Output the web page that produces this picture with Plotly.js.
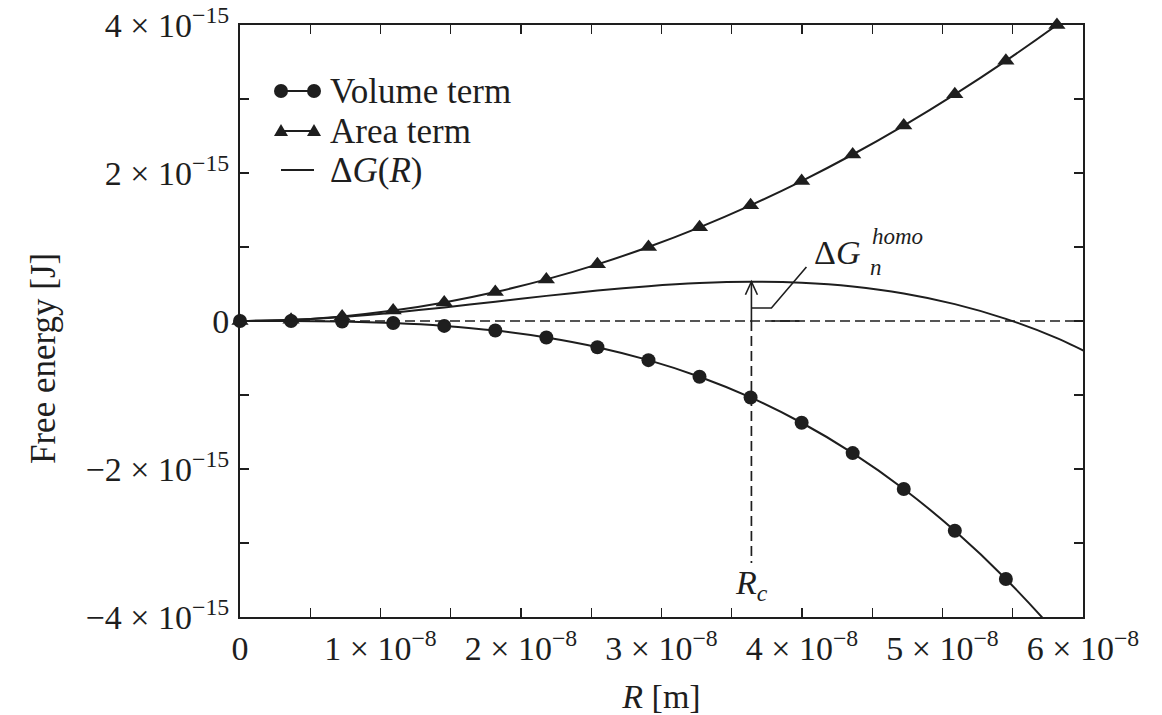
<!DOCTYPE html>
<html>
<head>
<meta charset="utf-8">
<script src="https://cdn.plot.ly/plotly-3.0.1.min.js"></script>
<style>html,body{margin:0;padding:0;background:#fff;}</style>
</head>
<body>
<div id="chart" style="width:1162px;height:715px;"></div>
<script>
// ---- data ----
const radius = [0, 3.634e-9, 7.268e-9, 1.0902e-8, 1.4536e-8, 1.817e-8, 2.1804e-8, 2.5438e-8,
  2.9072e-8, 3.2706e-8, 3.634e-8, 3.9974e-8, 4.3608e-8, 4.7242e-8, 5.0876e-8, 5.451e-8,
  5.8144e-8, 6.1778e-8];
const volumeTerm = [0, -1.0e-18, -8.3e-18, -2.79e-17, -6.61e-17, -1.29e-16, -2.23e-16, -3.54e-16,
  -5.29e-16, -7.53e-16, -1.033e-15, -1.375e-15, -1.785e-15, -2.27e-15, -2.835e-15, -3.486e-15,
  -4.231e-15, -5.075e-15];
const areaTerm = [0, 1.56e-17, 6.25e-17, 1.406e-16, 2.5e-16, 3.906e-16, 5.625e-16, 7.656e-16,
  1.0e-15, 1.266e-15, 1.563e-15, 1.891e-15, 2.25e-15, 2.641e-15, 3.063e-15, 3.516e-15,
  4.0e-15, 4.516e-15];
const deltaG = [0, 1.46e-17, 5.42e-17, 1.127e-16, 1.839e-16, 2.615e-16, 3.394e-16, 4.113e-16,
  4.711e-16, 5.125e-16, 5.295e-16, 5.157e-16, 4.65e-16, 3.711e-16, 2.279e-16, 2.92e-17,
  -2.311e-16, -5.596e-16];

const criticalRadius = 3.64e-8;   // R_c
const barrierHeight = 5.3e-16;    // ΔG_n^homo
const rcGuideBottom = -3.27e-15;  // lower end of the R_c guide

const seriesNames = ['Volume term', 'Area term', 'Δ<i>G</i>(<i>R</i>)'];

const xTickVals = [0, 1e-8, 2e-8, 3e-8, 4e-8, 5e-8, 6e-8];
const xTickText = ['0', '1 × 10<sup>−8</sup>', '2 × 10<sup>−8</sup>', '3 × 10<sup>−8</sup>',
  '4 × 10<sup>−8</sup>', '5 × 10<sup>−8</sup>', '6 × 10<sup>−8</sup>'];
const xMinorStep = 0.5e-8;
const yTickVals = [-4e-15, -2e-15, 0, 2e-15, 4e-15];
const yTickText = ['−4 × 10<sup>−15</sup>', '−2 × 10<sup>−15</sup>', '0',
  '2 × 10<sup>−15</sup>', '4 × 10<sup>−15</sup>'];
const yMinorStep = 1e-15;

const xRange = [0, 6e-8];
const yRange = [-4e-15, 4e-15];

// ---- layout helpers ----
const W = 1162, H = 715;
const M = {l: 240, r: 79, t: 25, b: 98};
const PW = W - M.l - M.r, PH = H - M.t - M.b;
const px = x => (x - M.l) / PW;
const py = y => (H - M.b - y) / PH;

const INK = '#1e1e1e';
const FONT = 'Liberation Serif, Times New Roman, serif';
const FS = 34;

function inRange(vals) {
  const xs = [], ys = [];
  vals.forEach((v, i) => {
    if (v >= yRange[0] - 1e-30 && v <= yRange[1] + 1e-30 && radius[i] <= xRange[1]) {
      xs.push(radius[i]); ys.push(v);
    }
  });
  return {xs, ys};
}

const volPts = inRange(volumeTerm);
const areaPts = inRange(areaTerm);

const lineStyle = {color: INK, width: 2, shape: 'spline', smoothing: 0.6};

const traces = [
  {x: radius, y: volumeTerm, mode: 'lines', line: lineStyle, name: seriesNames[0], showlegend: false, hoverinfo: 'skip'},
  {x: volPts.xs, y: volPts.ys, mode: 'markers', marker: {symbol: 'circle', size: 14, color: INK},
   cliponaxis: false, showlegend: false, name: seriesNames[0]},
  {x: radius, y: areaTerm, mode: 'lines', line: lineStyle, name: seriesNames[1], showlegend: false, hoverinfo: 'skip'},
  {x: areaPts.xs, y: areaPts.ys, mode: 'markers', marker: {symbol: 'triangle-up', size: 15, color: INK},
   cliponaxis: false, showlegend: false, name: seriesNames[1]},
  {x: radius, y: deltaG, mode: 'lines', line: lineStyle, name: seriesNames[2], showlegend: false}
];

// ---- custom legend (pgfplots style: marker at both ends) ----
const legendRows = [
  {y: 91, text: seriesNames[0], marker: 'circle'},
  {y: 131, text: seriesNames[1], marker: 'triangle'},
  {y: 170, text: seriesNames[2], marker: 'none'}
];
const shapes = [];
const annotations = [];
legendRows.forEach(row => {
  shapes.push({type: 'line', xref: 'paper', yref: 'paper', x0: px(281), x1: px(314), y0: py(row.y), y1: py(row.y),
    line: {color: INK, width: 2}});
  [281, 314].forEach(cx => {
    if (row.marker === 'circle') {
      shapes.push({type: 'circle', xref: 'paper', yref: 'paper', xsizemode: 'pixel', ysizemode: 'pixel',
        xanchor: px(cx), yanchor: py(row.y), x0: -7, x1: 7, y0: -7, y1: 7,
        fillcolor: INK, line: {color: INK, width: 0}});
    } else if (row.marker === 'triangle') {
      shapes.push({type: 'path', xref: 'paper', yref: 'paper', xsizemode: 'pixel', ysizemode: 'pixel',
        xanchor: px(cx), yanchor: py(row.y), path: 'M -7,-5 L 7,-5 L 0,7 Z',
        fillcolor: INK, line: {color: INK, width: 0}});
    }
  });
  annotations.push({xref: 'paper', yref: 'paper', x: px(328), y: py(row.y), xanchor: 'left', yanchor: 'middle',
    text: row.text, showarrow: false, font: {family: FONT, size: 35, color: INK}});
});

// ---- reference lines and R_c / barrier annotation ----
shapes.push({type: 'line', xref: 'x', yref: 'y', x0: xRange[0], x1: xRange[1], y0: 0, y1: 0,
  line: {color: INK, width: 1.7, dash: '10px,5px'}});
shapes.push({type: 'line', xref: 'x', yref: 'y', x0: criticalRadius, x1: criticalRadius, y0: 0, y1: rcGuideBottom,
  line: {color: INK, width: 1.7, dash: '10px,5px'}});
// arrow shaft
shapes.push({type: 'line', xref: 'x', yref: 'y', x0: criticalRadius, x1: criticalRadius, y0: 0, y1: barrierHeight,
  line: {color: INK, width: 1.6}});
// open arrow head
shapes.push({type: 'path', xref: 'x', yref: 'y', xsizemode: 'pixel', ysizemode: 'pixel',
  xanchor: criticalRadius, yanchor: barrierHeight, path: 'M -6,-13 L 0,0 L 6,-13',
  line: {color: INK, width: 1.6}});
// leader to the label
shapes.push({type: 'path', xref: 'x', yref: 'y', xsizemode: 'pixel', ysizemode: 'pixel',
  xanchor: criticalRadius, yanchor: 0, path: 'M 0,13 L 20,13 L 55,54',
  line: {color: INK, width: 1.6}});
shapes.push({type: 'path', xref: 'x', yref: 'y', xsizemode: 'pixel', ysizemode: 'pixel',
  xanchor: criticalRadius, yanchor: 0, path: 'M 20,0 L 48,0',
  line: {color: INK, width: 1.6}});

annotations.push({xref: 'paper', yref: 'paper', x: px(812), y: py(252), xanchor: 'left', yanchor: 'middle',
  text: 'Δ<i>G</i>', showarrow: false, font: {family: FONT, size: FS, color: INK}});
annotations.push({xref: 'paper', yref: 'paper', x: px(870), y: py(236), xanchor: 'left', yanchor: 'middle',
  text: '<i>homo</i>', showarrow: false, font: {family: FONT, size: 23, color: INK}});
annotations.push({xref: 'paper', yref: 'paper', x: px(868), y: py(267), xanchor: 'left', yanchor: 'middle',
  text: '<i>n</i>', showarrow: false, font: {family: FONT, size: 23, color: INK}});
annotations.push({xref: 'x', yref: 'paper', x: criticalRadius, y: py(585), xanchor: 'center', yanchor: 'middle',
  text: '<i>R</i><sub><i>c</i></sub>', showarrow: false, font: {family: FONT, size: FS, color: INK}});
// y-axis title
annotations.push({xref: 'paper', yref: 'paper', x: px(43), y: py(359), xanchor: 'center', yanchor: 'middle',
  textangle: -90, text: 'Free energy [J]', showarrow: false, font: {family: FONT, size: 35, color: INK}});

const axisCommon = {
  showline: true, linecolor: INK, linewidth: 2, mirror: 'ticks',
  ticks: 'inside', ticklen: 9, tickwidth: 1.3, tickcolor: INK,
  showgrid: false, zeroline: false, tickmode: 'array',
  tickfont: {family: FONT, size: FS, color: INK}
};

const layout = {
  width: W, height: H,
  margin: M,
  paper_bgcolor: '#fff', plot_bgcolor: '#fff',
  font: {family: FONT, color: INK},
  showlegend: false,
  xaxis: Object.assign({}, axisCommon, {
    range: xRange, tickvals: xTickVals, ticktext: xTickText,
    minor: {tick0: 0, dtick: xMinorStep, ticks: 'inside', ticklen: 9, tickwidth: 1.3, tickcolor: INK, showgrid: false},
    title: {text: '<i>R</i> [m]', font: {family: FONT, size: FS, color: INK}, standoff: 18}
  }),
  yaxis: Object.assign({}, axisCommon, {
    range: yRange, tickvals: yTickVals, ticktext: yTickText, ticklabelstandoff: 2,
    minor: {tick0: 0, dtick: yMinorStep, ticks: 'inside', ticklen: 9, tickwidth: 1.3, tickcolor: INK, showgrid: false}
  }),
  shapes: shapes,
  annotations: annotations
};

Plotly.newPlot('chart', traces, layout, {staticPlot: true, displayModeBar: false});
</script>
</body>
</html>
